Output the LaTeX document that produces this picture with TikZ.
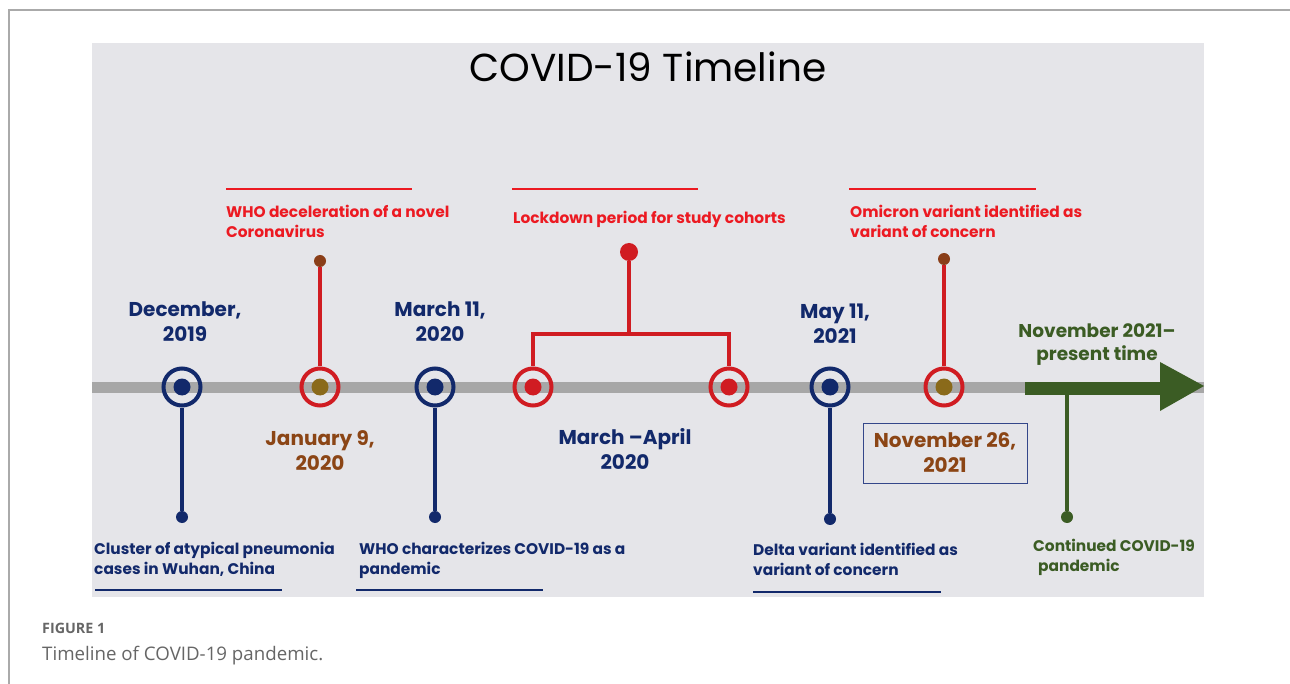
\documentclass[tikz,border=0pt]{standalone}
\usepackage{fontspec}
\setmainfont{Poppins}
\newfontfamily\capfont{Open Sans}
\definecolor{navy}{HTML}{12296B}
\definecolor{ringred}{HTML}{D01C22}
\definecolor{txtred}{HTML}{EC1A22}
\definecolor{brown}{HTML}{8B4515}
\definecolor{olive}{HTML}{8A6A1A}
\definecolor{topbrown}{HTML}{8A3E18}
\definecolor{dkgreen}{HTML}{3B5C24}
\definecolor{panel}{HTML}{E5E5E9}
\definecolor{bargray}{HTML}{A7A7A7}
\definecolor{frame}{HTML}{AAAAAA}
\definecolor{capgray}{HTML}{666666}
\definecolor{boxnavy}{HTML}{34478A}
\tikzset{
  ring/.style={circle, draw=#1, line width=4pt, minimum size=37pt, inner sep=0pt},
  hub/.style={circle, fill=#1, minimum size=17pt, inner sep=0pt},
  tipdot/.style={circle, fill=#1, minimum size=12pt, inner sep=0pt},
  stem/.style={draw=#1, line width=3.5pt},
  datelbl/.style={font={\fontsize{20}{25}\selectfont\bfseries}, align=center, inner sep=0pt, anchor=north},
  evlbl/.style={font={\fontsize{15.4}{20}\selectfont\bfseries}, align=left, inner sep=0pt, anchor=north west},
  rule/.style={draw=#1, line width=1.5pt},
}
\begin{document}
\begin{tikzpicture}[x=1pt,y=-1pt]
\useasboundingbox (0,0) rectangle (1290,684);
\fill[white] (0,0) rectangle (1290,684);
% outer frame
\draw[frame, line width=1.2pt] (9,684) -- (9,10) -- (1290,10);
% panel
\fill[panel] (92,43) rectangle (1204,597);
% title
\node[font={\fontsize{39}{46}\selectfont}, anchor=base] (title) at (648,82) {COVID-19 Timeline};
% bar
\coordinate (bl) at (92,387);
\coordinate (br) at (1204,387);
\draw[bargray, line width=11pt] (bl) -- (br);
% green arrow
\coordinate (gs) at (1025,388);
\coordinate (ge) at (1161,388);
\draw[dkgreen, line width=13pt] (gs) -- (ge);
\coordinate (at) at (1160,362);
\coordinate (ab) at (1160,411);
\coordinate (ap) at (1204,386);
\fill[dkgreen] (at) -- (ap) -- (ab) -- cycle;
% rings
\node[ring=navy] (c1) at (182,387) {};
\node[hub=navy] (d1) at (182,387) {};
\node[ring=ringred] (c2) at (320,387) {};
\node[hub=olive] (d2) at (320,387) {};
\node[ring=navy] (c3) at (435,387) {};
\node[hub=navy] (d3) at (435,387) {};
\node[ring=ringred] (c4) at (533,387) {};
\node[hub=ringred] (d4) at (533,387) {};
\node[ring=ringred] (c5) at (729,387) {};
\node[hub=ringred] (d5) at (729,387) {};
\node[ring=navy] (c6) at (830,387) {};
\node[hub=navy] (d6) at (830,387) {};
\node[ring=ringred] (c7) at (944,387) {};
\node[hub=olive] (d7) at (944,387) {};
% stems
\node[tipdot=navy] (e1) at (182,517) {};
\draw[stem=navy] (c1) -- (e1);
\node[tipdot=topbrown] (e2) at (320,261) {};
\draw[stem=ringred] (c2) -- (e2);
\node[tipdot=navy] (e3) at (435,517) {};
\draw[stem=navy] (c3) -- (e3);
\node[tipdot=navy] (e6) at (830,519) {};
\draw[stem=navy] (c6) -- (e6);
\node[tipdot=topbrown] (e7) at (944,259) {};
\draw[stem=ringred] (c7) -- (e7);
\coordinate (gb) at (1067,394);
\node[tipdot=dkgreen] (e8) at (1067,517) {};
\draw[stem=dkgreen] (gb) -- (e8);
% lockdown bracket
\node[circle, fill=ringred, minimum size=18pt, inner sep=0pt] (L) at (629,252) {};
\coordinate (bm) at (629,334);
\draw[stem=ringred, line join=miter] (c4.north) |- (bm) -| (c5.north);
\draw[stem=ringred] (bm) -- (L);
% date labels
\node[datelbl, text=navy] (t1) at (185,302) {December,\\2019};
\node[datelbl, text=brown] (t2) at (320,430) {January 9,\\2020};
\node[datelbl, text=navy] (t3) at (440,302) {March 11,\\2020};
\node[datelbl, text=navy] (t4) at (625,428) {March –April\\2020};
\node[datelbl, text=navy] (t6) at (835,304) {May 11,\\2021};
\node[datelbl, text=dkgreen, font={\fontsize{18.5}{23}\selectfont\bfseries}] (t8) at (1097,323) {November 2021–\\present time};
\node[draw=boxnavy, line width=1pt, minimum width=164pt, minimum height=60pt, inner sep=0pt] (nb) at (945,453) {};
\node[datelbl, text=brown] (t7) at (945,432) {November 26,\\2021};
% event labels
\draw[rule=txtred] (226,189) -- (412,189);
\node[evlbl, text=txtred] (w1) at (226,205) {WHO deceleration of a novel\\Coronavirus};
\draw[rule=txtred] (512,189) -- (698,189);
\node[evlbl, text=txtred] (w2) at (513,211) {Lockdown period for study cohorts};
\draw[rule=txtred] (849,189) -- (1036,189);
\node[evlbl, text=txtred] (w3) at (850,205) {Omicron variant identified as\\variant of concern};
\node[evlbl, text=navy] (b1) at (94,542) {Cluster of atypical pneumonia\\cases in Wuhan, China};
\draw[rule=navy] (95,590) -- (282,590);
\node[evlbl, text=navy] (b2) at (359,542) {WHO characterizes COVID-19 as a\\pandemic};
\draw[rule=navy] (356,590) -- (543,590);
\node[evlbl, text=navy] (b3) at (753,543) {Delta variant identified as\\variant of concern};
\draw[rule=navy] (753,592) -- (941,592);
\node[evlbl, text=dkgreen] (b4) at (1033,539) {Continued COVID-19\\\hspace*{5pt}pandemic};
% caption
\node[font={\capfont\fontsize{14.3}{17}\selectfont\bfseries}, text=capgray, anchor=base west, inner sep=0pt] (fig) at (42,633) {FIGURE 1};
\node[font={\capfont\fontsize{18.7}{22}\selectfont}, text=capgray, anchor=base west, inner sep=0pt] (cap) at (42,660) {Timeline of COVID-19 pandemic.};
\end{tikzpicture}
\end{document}
